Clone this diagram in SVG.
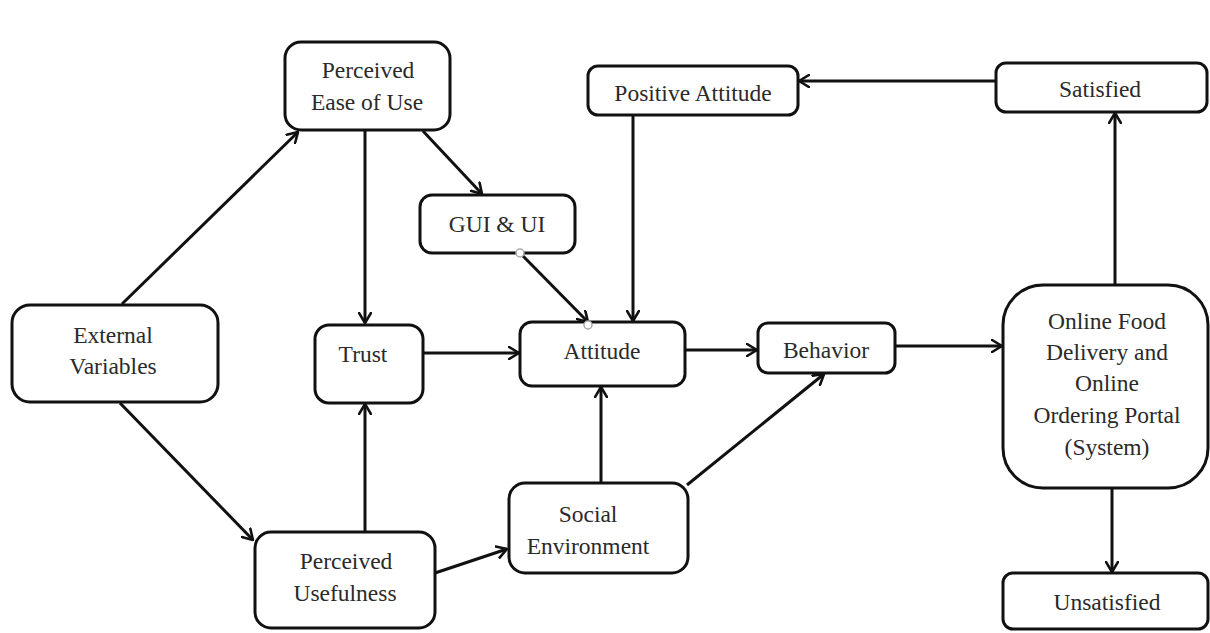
<svg xmlns="http://www.w3.org/2000/svg" width="1210" height="633" viewBox="0 0 1210 633">
<defs>
<marker id="arr" viewBox="0 0 12 14" refX="11" refY="7" markerWidth="12" markerHeight="14" markerUnits="userSpaceOnUse" orient="auto">
<path d="M1,1 L11,7 L1,13" fill="none" stroke="#111" stroke-width="2.6" stroke-linecap="round" stroke-linejoin="round"/>
</marker>
<style>
.box{fill:#fff;stroke:#111;stroke-width:3}
.t{font-family:'Liberation Serif','DejaVu Serif',serif;font-size:23.5px;fill:#2a2a2a;text-anchor:middle}
.c{fill:none;stroke:#111;stroke-width:3;marker-end:url(#arr)}
.dot{fill:#fff;stroke:#aaa;stroke-width:1.5}
</style>
</defs>
<rect width="1210" height="633" fill="#fff"/>
<g id="connectors">
<line class="c" x1="122" y1="304" x2="298" y2="132"/>
<line class="c" x1="365" y1="130" x2="365" y2="323"/>
<line class="c" x1="423" y1="131" x2="482" y2="194"/>
<line class="c" x1="520" y1="253" x2="588" y2="322"/>
<line class="c" x1="633" y1="115" x2="633" y2="321"/>
<line class="c" x1="423" y1="353" x2="519" y2="353"/>
<line class="c" x1="685" y1="350" x2="757" y2="350"/>
<line class="c" x1="895" y1="346" x2="1002" y2="346"/>
<line class="c" x1="601" y1="483" x2="601" y2="387"/>
<line class="c" x1="687" y1="485" x2="824" y2="374"/>
<line class="c" x1="120" y1="403" x2="253" y2="540"/>
<line class="c" x1="365" y1="532" x2="365" y2="404"/>
<line class="c" x1="435" y1="573" x2="507" y2="549"/>
<line class="c" x1="1115" y1="285" x2="1115" y2="113"/>
<line class="c" x1="996" y1="81" x2="799" y2="81"/>
<line class="c" x1="1112" y1="488" x2="1112" y2="572"/>
</g>
<g id="peou"><rect class="box" x="285" y="42" width="165" height="88" rx="16"/><text class="t" x="368" y="78">Perceived</text><text class="t" x="367" y="110">Ease of Use</text></g>
<g id="external"><rect class="box" x="12" y="305" width="206" height="97" rx="18"/><text class="t" x="113" y="343">External</text><text class="t" x="113" y="374">Variables</text></g>
<g id="trust"><rect class="box" x="315" y="325" width="108" height="78" rx="14"/><text class="t" x="363" y="362">Trust</text></g>
<g id="pu"><rect class="box" x="255" y="532" width="180" height="96" rx="16"/><text class="t" x="346" y="569">Perceived</text><text class="t" x="345" y="601">Usefulness</text></g>
<g id="gui"><rect class="box" x="420" y="195" width="155" height="58" rx="12"/><text class="t" x="497" y="232">GUI &amp; UI</text></g>
<g id="positive"><rect class="box" x="588" y="66" width="210" height="49" rx="10"/><text class="t" x="693" y="101">Positive Attitude</text></g>
<g id="attitude"><rect class="box" x="520" y="322" width="165" height="64" rx="12"/><text class="t" x="602" y="359">Attitude</text></g>
<g id="behavior"><rect class="box" x="758" y="323" width="137" height="50" rx="10"/><text class="t" x="826" y="358">Behavior</text></g>
<g id="social"><rect class="box" x="509" y="483" width="179" height="90" rx="16"/><text class="t" x="588" y="522">Social</text><text class="t" x="588" y="554">Environment</text></g>
<g id="satisfied"><rect class="box" x="996" y="63" width="211" height="49" rx="10"/><text class="t" x="1100" y="97">Satisfied</text></g>
<g id="online"><rect class="box" x="1003" y="285" width="205" height="203" rx="40"/><text class="t" x="1107" y="329">Online Food</text><text class="t" x="1107" y="360">Delivery and</text><text class="t" x="1107" y="391">Online</text><text class="t" x="1107" y="423">Ordering Portal</text><text class="t" x="1107" y="455">(System)</text></g>
<g id="unsatisfied"><rect class="box" x="1003" y="573" width="205" height="56" rx="10"/><text class="t" x="1107" y="610">Unsatisfied</text></g>
<g id="handles"><circle class="dot" cx="520" cy="253" r="4"/><circle class="dot" cx="588" cy="325" r="4"/></g>
</svg>
